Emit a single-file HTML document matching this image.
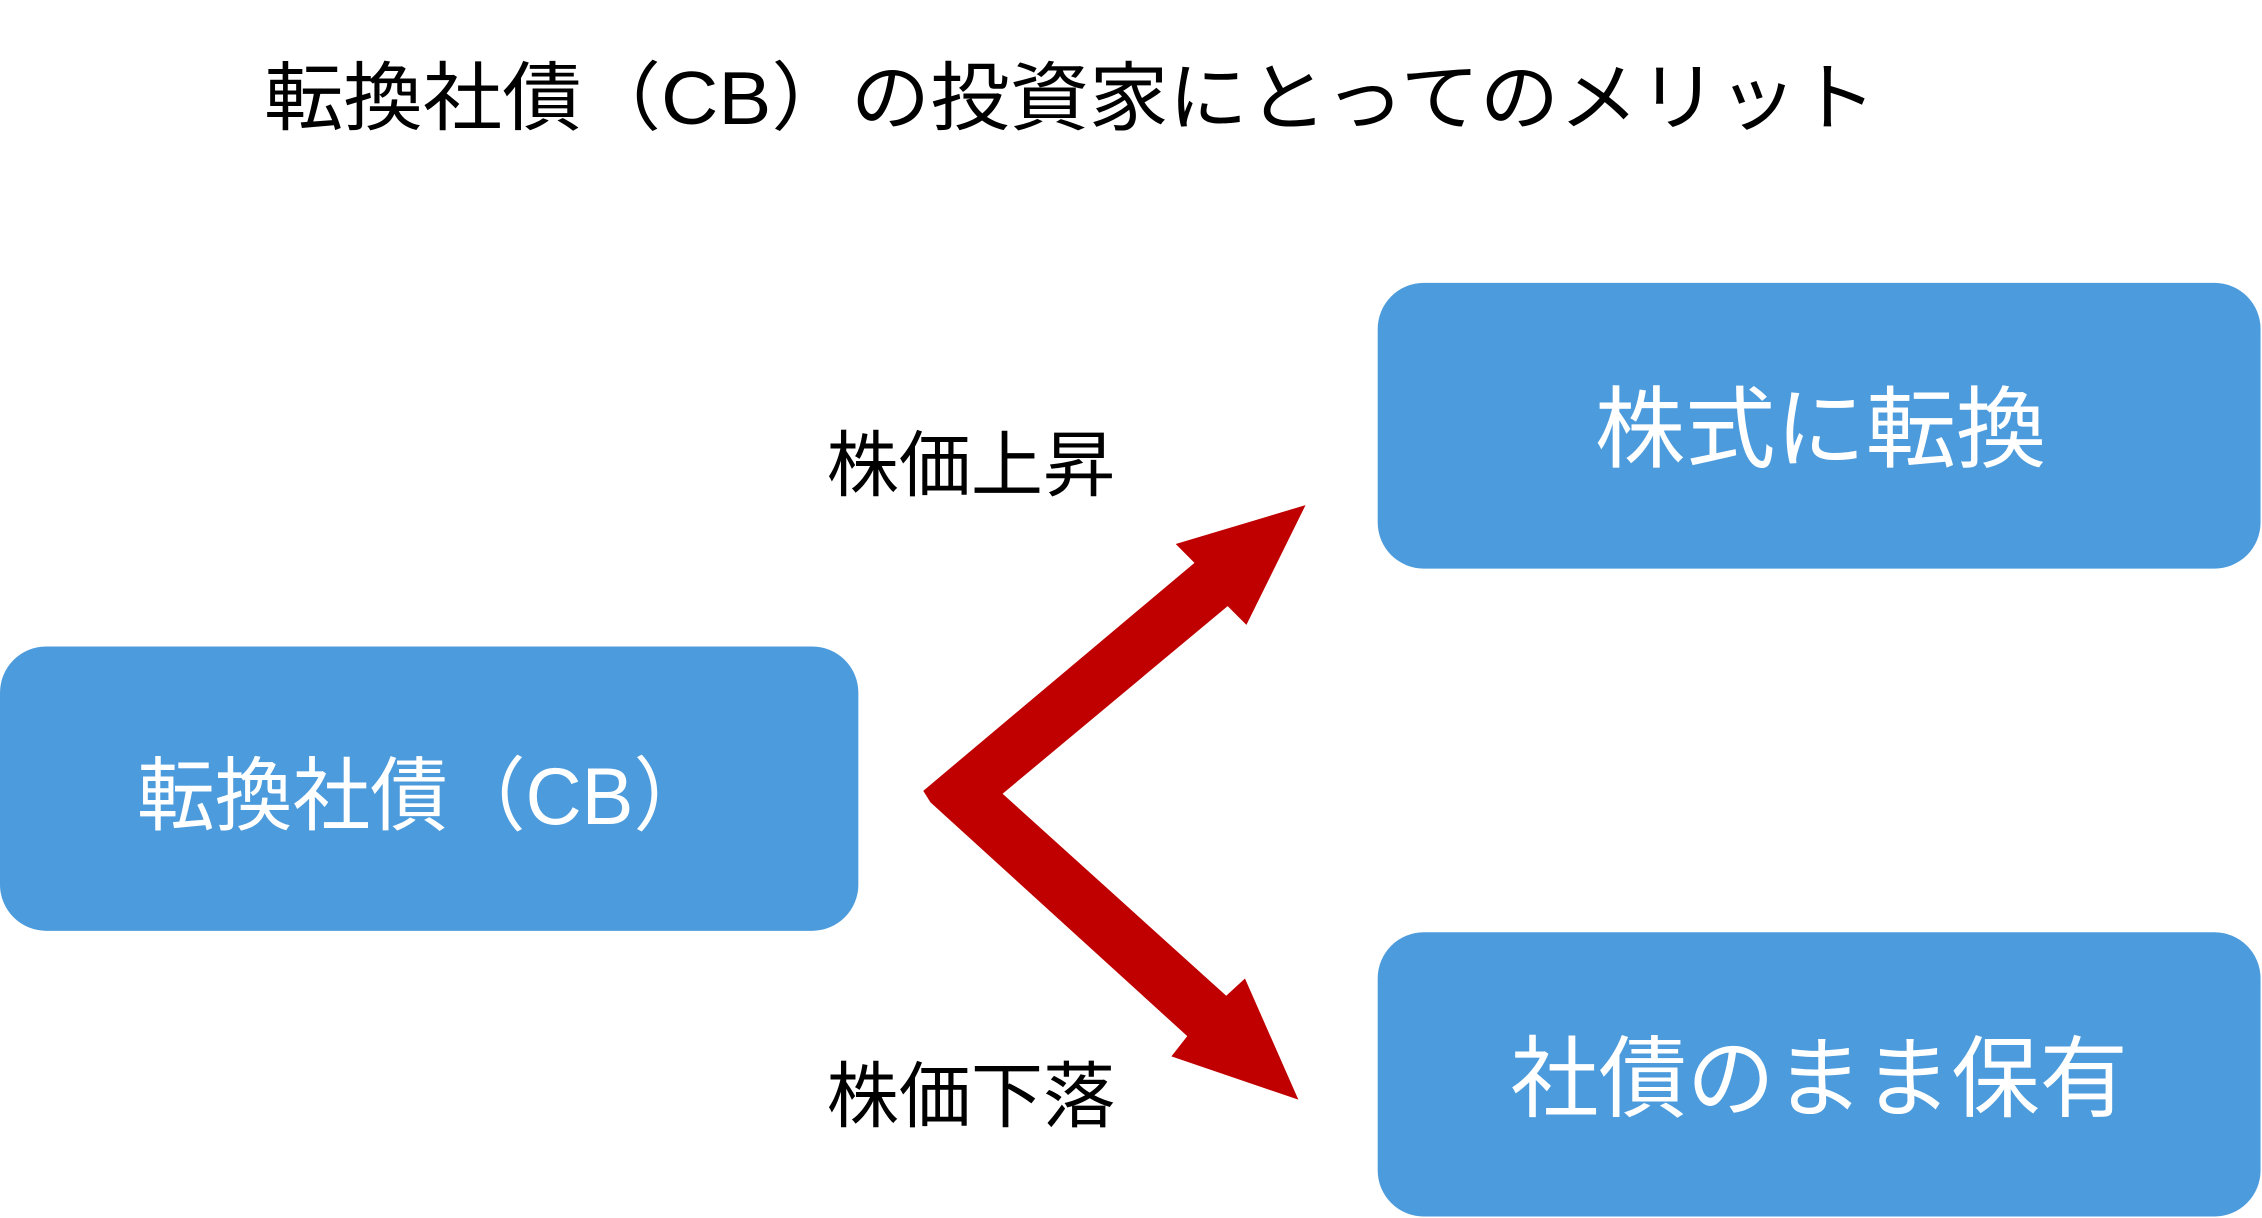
<!DOCTYPE html>
<html><head><meta charset="utf-8"><style>
html,body{margin:0;padding:0;background:#fff;}
svg{display:block;}
text{font-family:"Liberation Sans","Noto Sans CJK JP",sans-serif;}
</style></head><body>
<svg width="2262" height="1218" viewBox="0 0 1568 844" preserveAspectRatio="none" xmlns="http://www.w3.org/2000/svg">
<rect width="1568" height="844" fill="#fff"/>
<text x="183" y="86" font-size="52" fill="#000" textLength="1118" lengthAdjust="spacingAndGlyphs">転換社債（CB）の投資家にとってのメリット</text>
<rect x="0" y="448" width="595" height="197" rx="32" fill="#4C9BDC"/>
<rect x="955" y="196" width="612" height="198" rx="32" fill="#4C9BDC"/>
<rect x="955" y="646" width="612" height="197" rx="32" fill="#4C9BDC"/>
<text x="95" y="571" font-size="56" fill="#fff" textLength="398" lengthAdjust="spacingAndGlyphs">転換社債（CB）</text>
<text x="1262" y="319" font-size="62" fill="#fff" text-anchor="middle" textLength="313" lengthAdjust="spacingAndGlyphs">株式に転換</text>
<text x="1261" y="769" font-size="62" fill="#fff" text-anchor="middle" textLength="428" lengthAdjust="spacingAndGlyphs">社債のまま保有</text>
<text x="673" y="340" font-size="50" fill="#000" text-anchor="middle" textLength="200" lengthAdjust="spacingAndGlyphs">株価上昇</text>
<text x="673" y="777" font-size="50" fill="#000" text-anchor="middle" textLength="200" lengthAdjust="spacingAndGlyphs">株価下落</text>
<polygon fill="#C00000" points="640,548 828,390 815,377 905,350 864,433 851,420 695,550 850,690 863,678 900,762 812,732 823,718 645,556"/>
</svg>
</body></html>
